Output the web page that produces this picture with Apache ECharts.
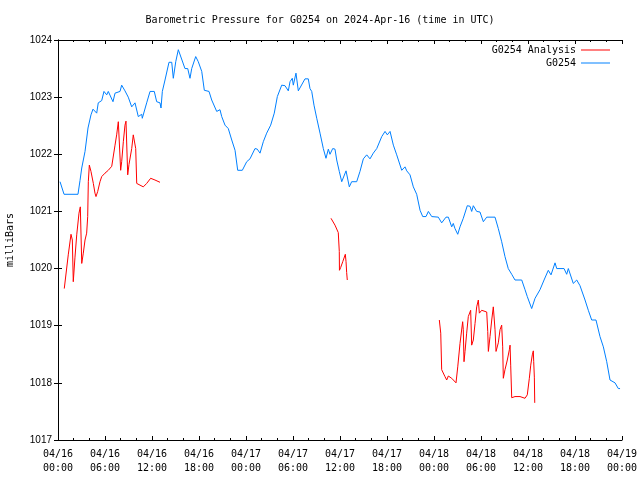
<!DOCTYPE html>
<html>
<head>
<meta charset="utf-8">
<script src="https://cdn.jsdelivr.net/npm/echarts@6/dist/echarts.min.js"></script>
<style>html,body{margin:0;padding:0;background:#fff}#c{width:640px;height:480px}</style>
</head>
<body>
<div id="c"></div>
<script>
// Hours since 2024-04-16 00:00 UTC
const xTickLabels = ['04/16\n00:00','04/16\n06:00','04/16\n12:00','04/16\n18:00','04/17\n00:00','04/17\n06:00','04/17\n12:00','04/17\n18:00','04/18\n00:00','04/18\n06:00','04/18\n12:00','04/18\n18:00','04/19\n00:00'];
const yTicks = [1017,1018,1019,1020,1021,1022,1023,1024];

const stationHours = [0.26,0.77,2.55,2.81,3.03,3.45,3.83,4.21,4.47,4.94,5.14,5.58,5.87,6.22,6.42,6.64,7.02,7.28,7.92,8.13,8.55,8.97,9.41,9.83,10.25,10.69,10.76,11.32,11.75,12.29,12.60,13.02,13.15,13.32,13.66,14.17,14.52,14.72,15.03,15.36,15.57,16.21,16.56,16.85,17.07,17.58,17.91,18.35,18.68,19.28,19.62,20.26,20.68,20.90,21.32,21.74,22.18,22.60,22.94,23.53,24.09,24.51,25.15,25.44,25.79,26.21,26.64,27.15,27.61,28.00,28.56,28.98,29.40,29.62,29.91,30.04,30.38,30.68,30.89,31.53,31.95,32.17,32.39,32.68,33.03,33.45,33.87,34.21,34.51,34.72,35.07,35.36,35.58,35.91,36.22,36.77,36.93,37.19,37.49,38.13,38.55,38.98,39.41,39.83,40.25,40.69,41.33,41.75,42.04,42.39,42.81,43.24,43.88,44.30,44.52,44.94,45.36,45.79,46.22,46.56,46.98,47.28,47.71,48.55,48.98,49.53,49.83,50.26,50.46,50.68,51.03,51.32,51.74,52.25,52.60,52.81,53.02,53.45,53.87,54.30,54.73,55.79,56.21,56.64,57.06,57.48,57.92,58.34,59.20,59.62,59.91,60.47,60.90,61.53,62.05,62.59,62.94,63.45,63.67,64.60,64.94,65.15,65.78,66.22,66.64,67.28,67.70,68.13,68.68,69.19,69.62,70.05,70.47,71.11,71.53,71.75];
const stationValues = [1021.52,1021.30,1021.30,1021.54,1021.76,1022.05,1022.46,1022.69,1022.79,1022.72,1022.90,1022.94,1023.10,1023.04,1023.10,1023.10,1022.92,1023.07,1023.10,1023.21,1023.11,1023.00,1022.83,1022.90,1022.66,1022.70,1022.63,1022.90,1023.10,1023.10,1022.92,1022.90,1022.81,1023.10,1023.30,1023.61,1023.61,1023.33,1023.62,1023.83,1023.81,1023.50,1023.50,1023.33,1023.50,1023.71,1023.62,1023.45,1023.12,1023.10,1022.95,1022.75,1022.78,1022.66,1022.51,1022.45,1022.25,1022.07,1021.72,1021.72,1021.87,1021.92,1022.10,1022.09,1022.02,1022.22,1022.37,1022.51,1022.72,1023.01,1023.21,1023.20,1023.11,1023.27,1023.33,1023.21,1023.42,1023.11,1023.11,1023.32,1023.32,1023.15,1023.10,1022.86,1022.63,1022.37,1022.10,1021.93,1022.09,1022.00,1022.10,1022.09,1021.90,1021.70,1021.52,1021.71,1021.70,1021.43,1021.52,1021.52,1021.70,1021.92,1021.99,1021.92,1022.02,1022.10,1022.31,1022.40,1022.34,1022.40,1022.16,1021.99,1021.72,1021.78,1021.71,1021.64,1021.43,1021.30,1021.02,1020.91,1020.91,1021.00,1020.91,1020.90,1020.80,1020.90,1020.90,1020.73,1020.79,1020.70,1020.60,1020.73,1020.88,1021.10,1021.09,1021.00,1021.10,1021.00,1020.99,1020.82,1020.90,1020.90,1020.70,1020.47,1020.21,1020.00,1019.90,1019.80,1019.80,1019.63,1019.51,1019.30,1019.48,1019.63,1019.80,1019.97,1019.89,1020.10,1020.00,1020.00,1019.90,1020.00,1019.74,1019.80,1019.70,1019.45,1019.27,1019.10,1019.10,1018.81,1018.63,1018.37,1018.05,1018.00,1017.90,1017.90];

const analysisHours = [0.80,1.31,1.66,1.83,1.95,2.17,2.39,2.68,2.85,3.03,3.23,3.45,3.66,3.79,3.87,4.00,4.21,4.51,4.72,4.85,5.07,5.36,5.58,6.00,6.42,6.86,7.28,7.49,7.70,7.83,8.00,8.13,8.34,8.55,8.68,8.90,9.06,9.41,9.61,9.74,9.92,10.05,10.47,10.89,11.32,11.83,12.38,13.02,
 20.0,
 34.85,35.36,35.78,35.91,35.93,36.09,36.35,36.68,36.77,36.85,36.93,
 42.0,
 48.68,48.86,48.98,49.40,49.62,49.83,50.26,50.81,51.03,51.32,51.66,51.74,51.83,51.96,52.17,52.38,52.68,52.81,53.02,53.24,53.45,53.66,53.79,54.09,54.73,54.86,54.94,55.15,55.37,55.57,55.66,55.79,55.92,56.21,56.43,56.64,56.77,56.85,57.06,57.36,57.62,57.71,57.79,57.92,58.34,58.98,59.62,59.91,60.17,60.35,60.55,60.68,60.73,60.81,60.86];
const analysisValues = [1019.65,1020.24,1020.60,1020.50,1019.77,1020.20,1020.59,1020.97,1021.08,1020.09,1020.27,1020.50,1020.62,1020.91,1021.52,1021.81,1021.70,1021.49,1021.32,1021.26,1021.35,1021.52,1021.61,1021.67,1021.72,1021.79,1022.16,1022.34,1022.57,1022.60,1021.72,1021.87,1022.22,1022.51,1022.58,1021.64,1021.82,1022.10,1022.34,1022.37,1022.10,1021.49,1021.46,1021.43,1021.49,1021.58,1021.55,1021.51,
 null,
 1020.88,1020.76,1020.63,1020.30,1019.97,1020.02,1020.12,1020.25,1020.12,1019.93,1019.80,
 null,
 1019.10,1018.87,1018.23,1018.11,1018.05,1018.12,1018.08,1018.00,1018.28,1018.69,1019.07,1018.93,1018.37,1018.55,1018.87,1019.16,1019.27,1018.66,1018.75,1019.04,1019.33,1019.45,1019.22,1019.27,1019.24,1018.90,1018.55,1018.81,1019.10,1019.33,1019.36,1018.93,1018.55,1018.70,1018.93,1019.01,1018.63,1018.08,1018.23,1018.40,1018.58,1018.66,1018.31,1017.74,1017.76,1017.76,1017.73,1017.79,1018.08,1018.31,1018.49,1018.56,1018.37,1018.10,1017.65];

const mono = 'DejaVu Sans Mono';
const pair = (h, v) => h.map((x, i) => [x, v[i] === null ? '-' : v[i]]);

const xBase = {
  type: 'value', min: 0, max: 72, interval: 6,
  axisLine: {show: true, lineStyle: {color: '#000', width: 1}},
  axisTick: {show: true, inside: true, length: 4, lineStyle: {color: '#000'}},
  minorTick: {show: true, splitNumber: 3, length: 2, lineStyle: {color: '#000'}},
  splitLine: {show: false}
};
const yBase = {
  type: 'value', min: 1017, max: 1024, interval: 1,
  axisLine: {show: true, lineStyle: {color: '#000', width: 1}},
  axisTick: {show: true, inside: true, length: 4, lineStyle: {color: '#000'}},
  splitLine: {show: false}
};

const chart = echarts.init(document.getElementById('c'), null, {renderer: 'canvas'});
chart.setOption({
  animation: false,
  backgroundColor: '#fff',
  title: {
    text: 'Barometric Pressure for G0254 on 2024-Apr-16 (time in UTC)',
    left: 'center', top: 10,
    textStyle: {fontFamily: mono, fontSize: 10, fontWeight: 'normal', color: '#000'}
  },
  legend: {
    orient: 'vertical', right: 25, top: 39, align: 'right',
    itemWidth: 29, itemHeight: 1, itemGap: 1,
    icon: 'rect',
    textStyle: {fontFamily: mono, fontSize: 10, color: '#000', lineHeight: 12},
    data: ['G0254 Analysis', 'G0254']
  },
  grid: {left: 58, right: 18, top: 40, bottom: 40, containLabel: false, outerBoundsMode: 'none'},
  xAxis: [
    Object.assign({}, xBase, {
      position: 'bottom',
      axisLabel: {
        show: true, margin: 7, fontFamily: mono, fontSize: 10, color: '#000', lineHeight: 14,
        formatter: v => xTickLabels[Math.round(v / 6)] || ''
      }
    }),
    Object.assign({}, xBase, {position: 'top', axisLabel: {show: false}})
  ],
  yAxis: [
    Object.assign({}, yBase, {
      position: 'left',
      name: 'milliBars', nameLocation: 'middle', nameRotate: 90, nameGap: 43,
      nameTextStyle: {fontFamily: mono, fontSize: 10, color: '#000'},
      axisLabel: {
        show: true, margin: 6, fontFamily: 'Liberation Sans', fontSize: 10, color: '#000',
        formatter: v => yTicks.indexOf(v) >= 0 ? String(v) : ''
      }
    }),
    Object.assign({}, yBase, {position: 'right', axisLabel: {show: false}})
  ],
  series: [
    {
      name: 'G0254 Analysis', type: 'line', xAxisIndex: 0, yAxisIndex: 0,
      data: pair(analysisHours, analysisValues),
      showSymbol: false, symbol: 'none', connectNulls: false,
      color: '#ff0000', lineStyle: {color: '#ff0000', width: 1}, z: 3
    },
    {
      name: 'G0254', type: 'line', xAxisIndex: 0, yAxisIndex: 0,
      data: pair(stationHours, stationValues),
      showSymbol: false, symbol: 'none',
      color: '#0080ff', lineStyle: {color: '#0080ff', width: 1}, z: 2
    }
  ]
});
</script>
</body>
</html>
